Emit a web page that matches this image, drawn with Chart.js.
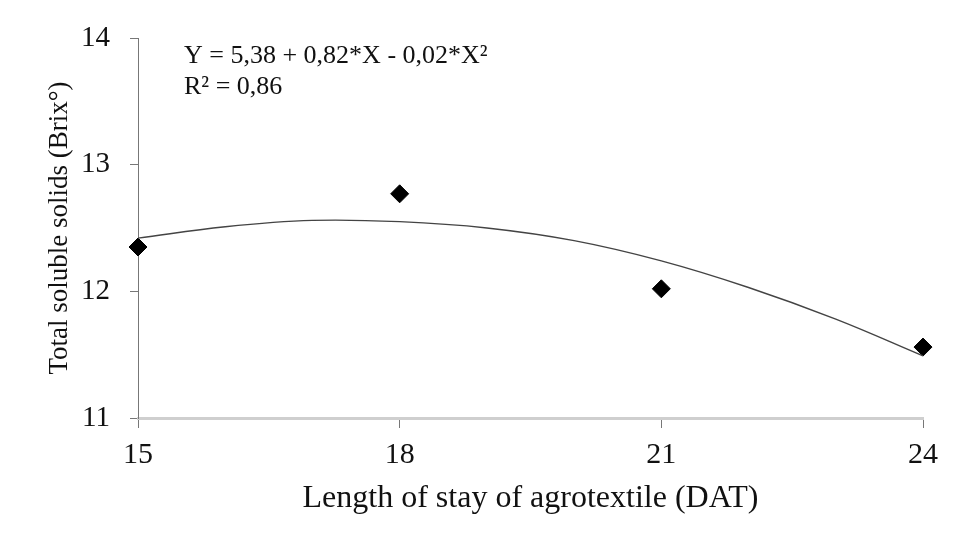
<!DOCTYPE html>
<html>
<head>
<meta charset="utf-8">
<script src="https://cdn.jsdelivr.net/npm/chart.js@4.4.1/dist/chart.umd.min.js"></script>
<style>
  html, body { margin: 0; padding: 0; background: #fff; }
  #wrap { width: 953px; height: 544px; }
</style>
</head>
<body>
<div id="wrap"><canvas id="chart" width="953" height="544"></canvas></div>
<script>
// observed values (days after transplanting vs Brix)
const days = [15, 18, 21, 24];
const brix = [12.35, 12.77, 12.02, 11.56];

// trendline
const trendDays = [15, 16, 17, 18, 19, 20, 21, 22, 23, 24];
const trendBrix = [12.42, 12.51, 12.56, 12.55, 12.50, 12.40, 12.24, 12.03, 11.78, 11.49];

const xTicks = [15, 18, 21, 24];
const yTicks = [11, 12, 13, 14];

const equation = ["Y = 5,38 + 0,82*X - 0,02*X²", "R² = 0,86"];

const serif = "'Liberation Serif', 'Times New Roman', serif";

// draws the regression text in the top left of the plot
const equationText = {
  id: "equationText",
  afterDraw(chart) {
    const ctx = chart.ctx;
    const area = chart.chartArea;
    ctx.save();
    ctx.fillStyle = "#111";
    ctx.font = "26px " + serif;
    ctx.textBaseline = "middle";
    ctx.fillText(equation[0], area.left + 46, area.top + 18);
    ctx.fillText(equation[1], area.left + 46, area.top + 49);
    ctx.restore();
  },
};

new Chart(document.getElementById("chart"), {
  type: "scatter",
  data: {
    datasets: [
      {
        label: "trend",
        type: "line",
        data: trendDays.map((d, i) => ({ x: d, y: trendBrix[i] })),
        borderColor: "#444",
        borderWidth: 1.4,
        pointRadius: 0,
        tension: 0.4,
        fill: false,
        clip: false,
      },
      {
        label: "Brix",
        data: days.map((d, i) => ({ x: d, y: brix[i] })),
        pointStyle: "rectRot",
        pointRadius: 9,
        backgroundColor: "#000",
        borderColor: "#000",
        clip: false,
      },
    ],
  },
  options: {
    responsive: false,
    animation: false,
    layout: { padding: { top: 38, right: 30, left: 40, bottom: 22 } },
    plugins: { legend: { display: false }, tooltip: { enabled: false } },
    scales: {
      x: {
        type: "linear",
        min: 15,
        max: 24,
        afterBuildTicks: (axis) => { axis.ticks = xTicks.map((v) => ({ value: v })); },
        afterFit: (axis) => { axis.height = 104; },
        border: { display: true, color: "#cfcfcf", width: 3 },
        grid: { drawOnChartArea: false, drawTicks: true, tickLength: 10, color: "#777", lineWidth: 1 },
        ticks: { color: "#111", font: { family: serif, size: 30 }, padding: 9, maxRotation: 0 },
        title: {
          display: true,
          text: "Length of stay of agrotextile (DAT)",
          color: "#111",
          font: { family: serif, size: 32 },
          padding: { top: 0 },
        },
      },
      y: {
        min: 11,
        max: 14,
        afterBuildTicks: (axis) => { axis.ticks = yTicks.map((v) => ({ value: v })); },
        afterFit: (axis) => { axis.width = 98; },
        border: { display: true, color: "#777", width: 1 },
        grid: { drawOnChartArea: false, drawTicks: true, tickLength: 8, color: "#777", lineWidth: 1 },
        ticks: { color: "#111", font: { family: serif, size: 29 }, padding: 20 },
        title: {
          display: true,
          text: "Total soluble solids (Brix°)",
          color: "#111",
          font: { family: serif, size: 27 },
          padding: { bottom: 0 },
        },
      },
    },
  },
  plugins: [equationText],
});
</script>
</body>
</html>
